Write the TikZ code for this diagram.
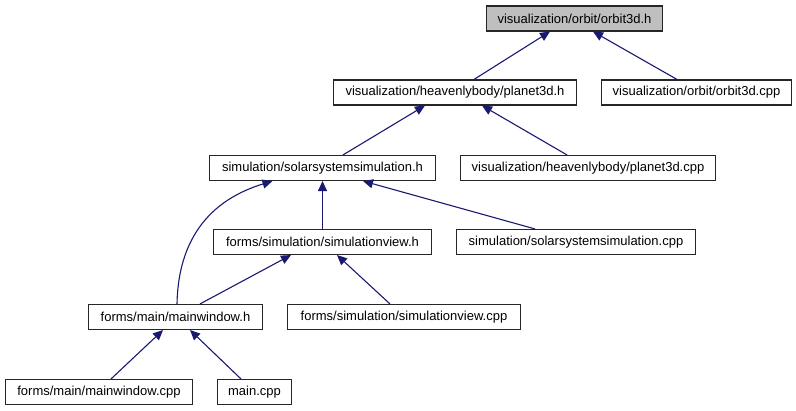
\documentclass[tikz,border=0pt]{standalone}
\usepackage{fontspec}
\setmainfont{Liberation Sans}
\usetikzlibrary{arrows.meta}
\definecolor{edgeblue}{HTML}{191970}
\definecolor{headgray}{HTML}{BFBFBF}
\begin{document}
\begin{tikzpicture}[x=1pt,y=1pt,
  file/.style={draw=black!85,line width=1.1pt,fill=white,minimum height=25pt,
    inner sep=0pt,font=\fontsize{13}{15}\selectfont},
  dep/.style={draw=edgeblue,line width=1.1pt,
    -{Triangle[length=10pt,width=9pt]}}]
  \useasboundingbox (0,0) rectangle (796,411);
  \node[file,fill=headgray,minimum width=176pt] (orbit) at (574.5,392.5) {visualization/orbit/orbit3d.h};
  \node[file,minimum width=243pt] (planet) at (455,318.5) {visualization/heavenlybody/planet3d.h};
  \node[file,minimum width=190pt] (orbitcpp) at (696.5,318.5) {visualization/orbit/orbit3d.cpp};
  \node[file,minimum width=226pt] (solar) at (322.5,243) {simulation/solarsystemsimulation.h};
  \node[file,minimum width=255pt] (planetcpp) at (588,243) {visualization/heavenlybody/planet3d.cpp};
  \node[file,minimum width=218pt] (simview) at (322.5,169) {forms/simulation/simulationview.h};
  \node[file,minimum width=239pt] (solarcpp) at (576,169) {simulation/solarsystemsimulation.cpp};
  \node[file,minimum width=174pt] (mainwin) at (175.5,94) {forms/main/mainwindow.h};
  \node[file,minimum width=233pt] (simviewcpp) at (404,94) {forms/simulation/simulationview.cpp};
  \node[file,minimum width=187pt] (mainwincpp) at (99,19) {forms/main/mainwindow.cpp};
  \node[file,minimum width=74pt] (maincpp) at (254.5,19) {main.cpp};
  \draw[dep] ([xshift=19pt]planet.north) -- ([xshift=-24.5pt]orbit.south);
  \draw[dep] ([xshift=-19.5pt]orbitcpp.north) -- ([xshift=18.5pt]orbit.south);
  \draw[dep] ([xshift=20.5pt]solar.north) -- ([xshift=-30pt]planet.south);
  \draw[dep] ([xshift=-21pt]planetcpp.north) -- ([xshift=27pt]planet.south);
  \draw[dep] (simview.north) -- (solar.south);
  \draw[dep] ([xshift=-41pt]solarcpp.north) -- ([xshift=40.5pt]solar.south);
  \draw[dep] ([xshift=1.5pt]mainwin.north) .. controls +(1,54) and +(-72,-22) .. ([xshift=-50pt]solar.south);
  \draw[dep] ([xshift=24.5pt]mainwin.north) -- ([xshift=-31.5pt]simview.south);
  \draw[dep] ([xshift=-14pt]simviewcpp.north) -- ([xshift=14.5pt]simview.south);
  \draw[dep] ([xshift=12pt]mainwincpp.north) -- ([xshift=-12.5pt]mainwin.south);
  \draw[dep] ([xshift=-13.5pt]maincpp.north) -- ([xshift=14.5pt]mainwin.south);
\end{tikzpicture}
\end{document}
